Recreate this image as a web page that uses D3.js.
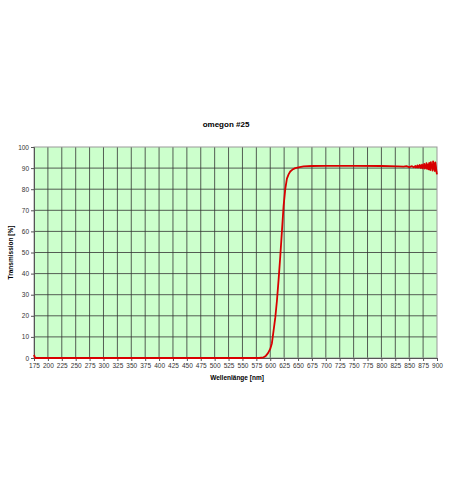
<!DOCTYPE html>
<html>
<head>
<meta charset="utf-8">
<script src="https://cdn.jsdelivr.net/npm/d3@7"></script>
<style>
  body { margin: 0; background: #fff; }
  text { font-family: "Liberation Sans", Arial, sans-serif; }
</style>
</head>
<body>
<script>
// chart values
const title = 'omegon #25';
const xLabel = 'Wellenlänge [nm]';
const yLabel = 'Transmission [%]';
const xTicks = d3.range(175, 901, 25);
const yTicks = d3.range(0, 101, 10);

const wavelength = [175, 177, 200, 300, 400, 500, 580, 588, 592, 596, 600, 603, 606, 609, 612, 615, 618, 621, 624, 627, 630, 633, 636, 640, 645, 653, 660, 675, 700, 750, 800, 830, 840, 845, 850, 855, 858, 860,
  861, 862, 863, 864, 865, 866, 867, 868, 869, 870, 871, 872, 873, 874, 875, 876, 877, 878, 879, 880,
  881, 882, 883, 884, 885, 886, 887, 888, 889, 890, 891, 892, 893, 894, 895, 896, 897, 898, 899, 900];
const transmission = [1.5, 0, 0, 0, 0, 0, 0, 0.3, 1, 2.3, 4.3, 7, 13, 19, 27, 37, 48, 60, 72, 80, 85, 87, 88.4, 89.3, 90, 90.5, 90.8, 91, 91.1, 91.1, 91, 90.8, 90.7, 90.9, 90.5, 90.9, 90.4, 90.7,
  91.0, 90.3, 90.8, 90.5, 91.3, 90.2, 90.9, 90.6, 91.5, 90.1, 90.9, 90.3, 91.6, 89.9, 91.2, 90.7, 92.0, 89.8, 91.1, 90.2,
  92.3, 89.6, 90.9, 91.7, 89.4, 92.5, 90.3, 89.1, 92.8, 90.6, 91.4, 88.8, 93.2, 89.7, 92.1, 88.6, 92.7, 90.9, 88.4, 87.0];

const w = 450, h = 503;
const plotLeft = 34, plotRight = 437, plotTop = 147, plotBottom = 358;

const svg = d3.select('body').append('svg').attr('width', w).attr('height', h);

const x = d3.scaleLinear().domain([175, 900]).range([plotLeft, plotRight]);
const y = d3.scaleLinear().domain([0, 100]).range([plotBottom, plotTop]);

// plot background
svg.append('rect')
  .attr('x', plotLeft).attr('y', plotTop)
  .attr('width', plotRight - plotLeft).attr('height', plotBottom - plotTop)
  .attr('fill', '#ccffcc');

// grid
svg.append('g').selectAll('line').data(xTicks.slice(1, -1)).enter().append('line')
  .attr('x1', d => x(d)).attr('x2', d => x(d))
  .attr('y1', plotTop).attr('y2', plotBottom)
  .attr('stroke', '#333').attr('stroke-width', 0.8);
svg.append('g').selectAll('line').data(yTicks.slice(1, -1)).enter().append('line')
  .attr('x1', plotLeft).attr('x2', plotRight)
  .attr('y1', d => y(d)).attr('y2', d => y(d))
  .attr('stroke', '#333').attr('stroke-width', 0.8);

// border
svg.append('rect')
  .attr('x', plotLeft).attr('y', plotTop)
  .attr('width', plotRight - plotLeft).attr('height', plotBottom - plotTop)
  .attr('fill', 'none').attr('stroke', '#999').attr('stroke-width', 1);

// axes
const xAxis = d3.axisBottom(x).tickValues(xTicks).tickSize(3).tickPadding(2);
const gx = svg.append('g').attr('transform', `translate(0,${plotBottom})`).call(xAxis);
const yAxis = d3.axisLeft(y).tickValues(yTicks).tickSize(3).tickPadding(2);
const gy = svg.append('g').attr('transform', `translate(${plotLeft},0)`).call(yAxis);
[gx, gy].forEach(g => {
  g.select('.domain').attr('stroke', '#555');
  g.selectAll('.tick line').attr('stroke', '#555');
  g.selectAll('.tick text').attr('font-size', 6.5).attr('fill', '#333')
    .style('font-family', '"Liberation Sans", Arial, sans-serif');
});

// curve
const line = d3.line().x((d, i) => x(wavelength[i])).y(d => y(d));
svg.append('path')
  .datum(transmission)
  .attr('d', line)
  .attr('fill', 'none')
  .attr('stroke', '#d80000')
  .attr('stroke-width', 1.8)
  .attr('stroke-linejoin', 'round');

// titles
svg.append('text').attr('x', 226).attr('y', 127)
  .attr('text-anchor', 'middle').attr('font-size', 8).attr('font-weight', 'bold')
  .text(title);
svg.append('text').attr('x', 237).attr('y', 380)
  .attr('text-anchor', 'middle').attr('font-size', 6.5).attr('font-weight', 'bold')
  .text(xLabel);
svg.append('text')
  .attr('transform', `translate(13,${(plotTop + plotBottom) / 2}) rotate(-90)`)
  .attr('text-anchor', 'middle').attr('font-size', 6.5).attr('font-weight', 'bold')
  .text(yLabel);
</script>
</body>
</html>
